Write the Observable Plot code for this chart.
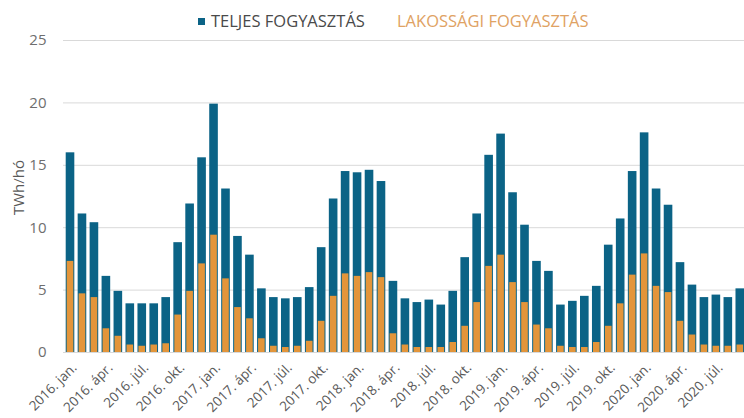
<!DOCTYPE html>
<html><head><meta charset="utf-8">
<script src="https://cdn.jsdelivr.net/npm/d3@7"></script>
<script src="https://cdn.jsdelivr.net/npm/@observablehq/plot@0.6"></script>
<style>
html,body{margin:0;padding:0;overflow:hidden;background:#fff;font-family:"Open Sans",sans-serif}
#wrap{position:relative;width:744px;height:418px;overflow:hidden}
#legend{position:absolute;top:0;left:0;width:744px;height:40px;font-size:16.5px;z-index:2}
#legend span{position:absolute;top:9px;white-space:nowrap;line-height:24px}
.sw{position:absolute;left:-13px;top:9px;width:7px;height:7px}
</style></head><body>
<div id="wrap"><div id="legend"></div><div id="chart"></div></div>
<script>
const years = [2016, 2017, 2018, 2019, 2020];
const monthNames = ["jan.", "febr.", "márc.", "ápr.", "máj.", "jún.", "júl.", "aug.", "szept.", "okt.", "nov.", "dec."];
const seriesNames = ["TELJES FOGYASZTÁS", "LAKOSSÁGI FOGYASZTÁS"];
// TWh/hó, 2016 jan – 2020 szept
const total = [
  16.0, 11.1, 10.4, 6.1, 4.9, 3.9, 3.9, 3.9, 4.4, 8.8, 11.9, 15.6,
  19.9, 13.1, 9.3, 7.8, 5.1, 4.4, 4.3, 4.4, 5.2, 8.4, 12.3, 14.5,
  14.4, 14.6, 13.7, 5.7, 4.3, 4.0, 4.2, 3.8, 4.9, 7.6, 11.1, 15.8,
  17.5, 12.8, 10.2, 7.3, 6.5, 3.8, 4.1, 4.5, 5.3, 8.6, 10.7, 14.5,
  17.6, 13.1, 11.8, 7.2, 5.4, 4.4, 4.6, 4.4, 5.1
];
const household = [
  7.3, 4.7, 4.4, 1.9, 1.3, 0.6, 0.5, 0.6, 0.7, 3.0, 4.9, 7.1,
  9.4, 5.9, 3.6, 2.7, 1.1, 0.5, 0.4, 0.5, 0.9, 2.5, 4.5, 6.3,
  6.1, 6.4, 6.0, 1.5, 0.6, 0.4, 0.4, 0.4, 0.8, 2.1, 4.0, 6.9,
  7.8, 5.6, 4.0, 2.2, 1.9, 0.5, 0.4, 0.4, 0.8, 2.1, 3.9, 6.2,
  7.9, 5.3, 4.8, 2.5, 1.4, 0.6, 0.5, 0.5, 0.6
];
const yTicks = [0, 5, 10, 15, 20, 25];
const yLabel = "TWh/hó";

const teal = "#0b6386";
const orange = "#e3953a";

const months = [];
for (const y of years) for (const m of monthNames) if (months.length < total.length) months.push(`${y}. ${m}`);
const data = months.map((m, i) => ({month: m, total: total[i], household: household[i]}));
const tickLabels = months.filter((_, i) => i % 3 === 0);

const legend = document.getElementById("legend");
legend.innerHTML =
  `<span style="left:211px;color:#4a4a4a"><i class="sw" style="background:${teal}"></i>${seriesNames[0]}</span>` +
  `<span style="left:397px;color:#e0a263">${seriesNames[1]}</span>`;

const chart = Plot.plot({
  width: 744,
  height: 418,
  marginTop: 40,
  marginBottom: 66,
  marginLeft: 63,
  marginRight: 0,
  style: {fontFamily: "Open Sans", background: "transparent", color: "#595959"},
  x: {type: "band", domain: months, range: [65.7, 744.1], paddingInner: 0.28, paddingOuter: 0, axis: null},
  y: {domain: [0, 25], axis: null},
  marks: [
    Plot.gridY(yTicks, {stroke: "#d9d9d9", strokeOpacity: 1}),
    Plot.barY(data, {x: "month", y: "total", fill: teal}),
    Plot.barY(data, {x: "month", y: "household", fill: orange, insetLeft: 1, insetRight: 1}),
    Plot.axisY(yTicks, {tickSize: 0, tickPadding: 17, fontSize: 15, fill: "#6e6e6e", label: null}),
    Plot.axisX(tickLabels, {tickSize: 0, tickRotate: -45, tickPadding: 13, dx: 4, fontSize: 13.5, fill: "#595959", label: null}),
    Plot.text([yLabel], {frameAnchor: "left", textAnchor: "middle", dx: -44, dy: -9, rotate: -90, fontSize: 15, fill: "#595959"})
  ]
});
document.getElementById("chart").appendChild(chart);
</script>
</body></html>
